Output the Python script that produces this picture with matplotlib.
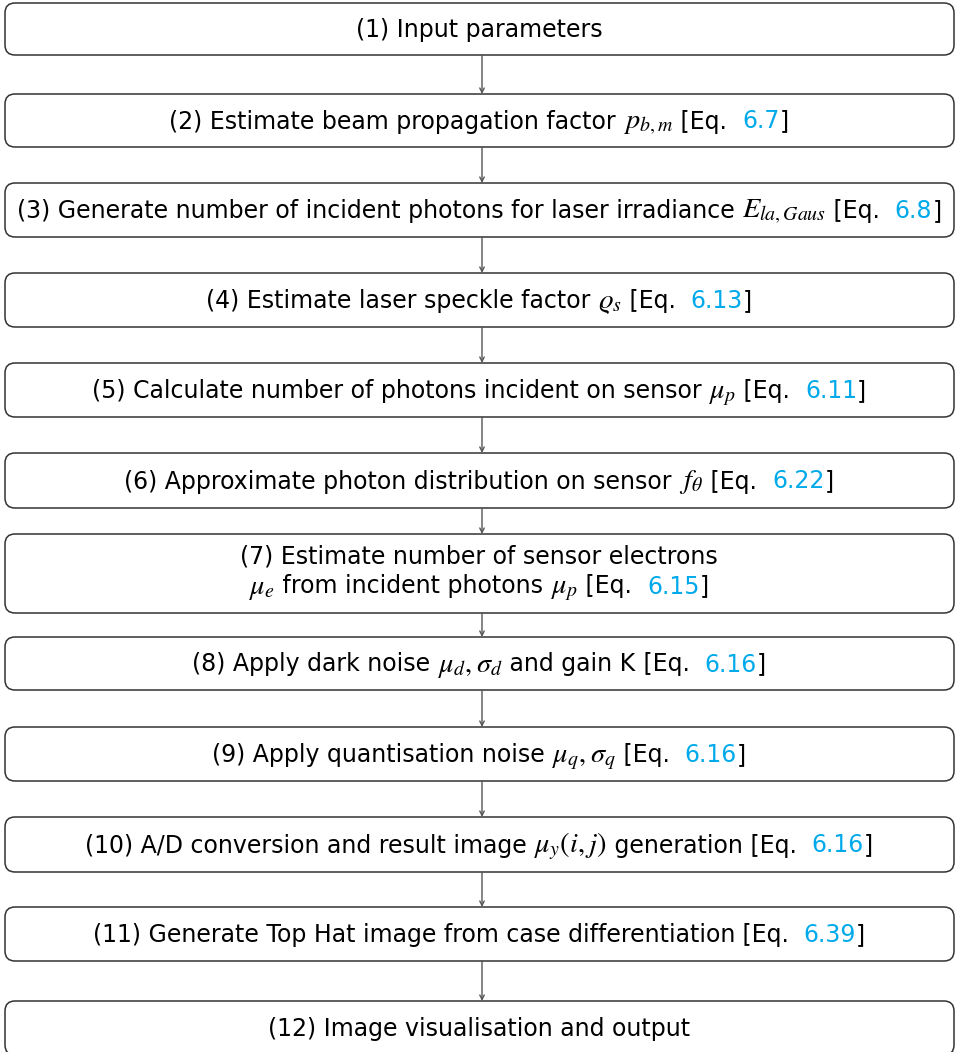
import matplotlib
matplotlib.use('Agg')
import matplotlib.pyplot as plt
from matplotlib.patches import FancyBboxPatch

plt.rcParams['font.family'] = ['DejaVu Sans']
plt.rcParams['mathtext.fontset'] = 'stix'

# flowchart content
step_lines = [
    [r'(1) Input parameters'],
    [r'(2) Estimate beam propagation factor $p_{b,m}$'],
    [r'(3) Generate number of incident photons for laser irradiance $E_{la,Gaus}$'],
    [r'(4) Estimate laser speckle factor $\varrho_s$'],
    [r'(5) Calculate number of photons incident on sensor $\mu_p$'],
    [r'(6) Approximate photon distribution on sensor $f_\theta$'],
    [r'(7) Estimate number of sensor electrons',
     r'$\mu_e$ from incident photons $\mu_p$'],
    [r'(8) Apply dark noise $\mu_d,\sigma_d$ and gain K'],
    [r'(9) Apply quantisation noise $\mu_q,\sigma_q$'],
    [r'(10) A/D conversion and result image $\mu_y(i,j)$ generation'],
    [r'(11) Generate Top Hat image from case differentiation'],
    [r'(12) Image visualisation and output'],
]
eq_refs = [None, '6.7', '6.8', '6.13', '6.11', '6.22', '6.15',
           '6.16', '6.16', '6.16', '6.39', None]

# box extents in pixels (top, bottom)
box_top = [3, 94, 183, 273, 363, 453, 534, 637, 727, 817, 907, 1001]
box_bot = [55, 147, 237, 327, 417, 508, 613, 690, 781, 872, 961, 1055]

W, H = 958, 1052
LINK = '#00AAEA'
FS = 17.0
MATH_FS = FS * 1.2

fig = plt.figure(figsize=(W / 100, H / 100), dpi=100)
ax = fig.add_axes([0, 0, 1, 1])
ax.set_xlim(0, W)
ax.set_ylim(H, 0)
ax.axis('off')
renderer = fig.canvas.get_renderer()


def split_math(s, color='black'):
    parts = s.split('$')
    out = []
    for j, p in enumerate(parts):
        if not p:
            continue
        if j % 2 == 1:
            out.append(('$' + p + '$', color, MATH_FS))
        else:
            out.append((p, color, FS))
    return out


def draw_segments(y, segs, xc=W / 2):
    # place coloured pieces side by side, centred on xc
    texts = []
    for s, c, fs in segs:
        t = ax.text(0, y, s, color=c, fontsize=fs, va='baseline', ha='left')
        texts.append(t)
    widths = [t.get_window_extent(renderer).width for t in texts]
    x = xc - sum(widths) / 2
    for t, w in zip(texts, widths):
        t.set_x(x)
        x += w


x0, x1 = 5, 954
for i, lines in enumerate(step_lines):
    t0, t1 = box_top[i], box_bot[i]
    box = FancyBboxPatch((x0, t0), x1 - x0, t1 - t0,
                         boxstyle='round,pad=0,rounding_size=10',
                         fc='white', ec='#333333', lw=1.1, clip_on=False)
    ax.add_patch(box)

    n = len(lines)
    lh = 30
    yc = (t0 + t1) / 2
    for k, ln in enumerate(lines):
        if n == 1:
            yb = yc + 8
        else:
            yb = yc - 10 + k * lh
        segs = split_math(ln)
        if k == n - 1 and eq_refs[i] is not None:
            segs += [(' [Eq.  ', 'black', FS), (eq_refs[i], LINK, FS), (']', 'black', FS)]
        draw_segments(yb, segs)

    # arrow to next box
    if i < len(step_lines) - 1:
        ax.annotate('', xy=(482, box_top[i + 1]), xytext=(482, t1),
                    arrowprops=dict(arrowstyle='->', color='#555555', lw=1.0,
                                    mutation_scale=8, shrinkA=0, shrinkB=0))

fig.savefig('out.png', dpi=100)
